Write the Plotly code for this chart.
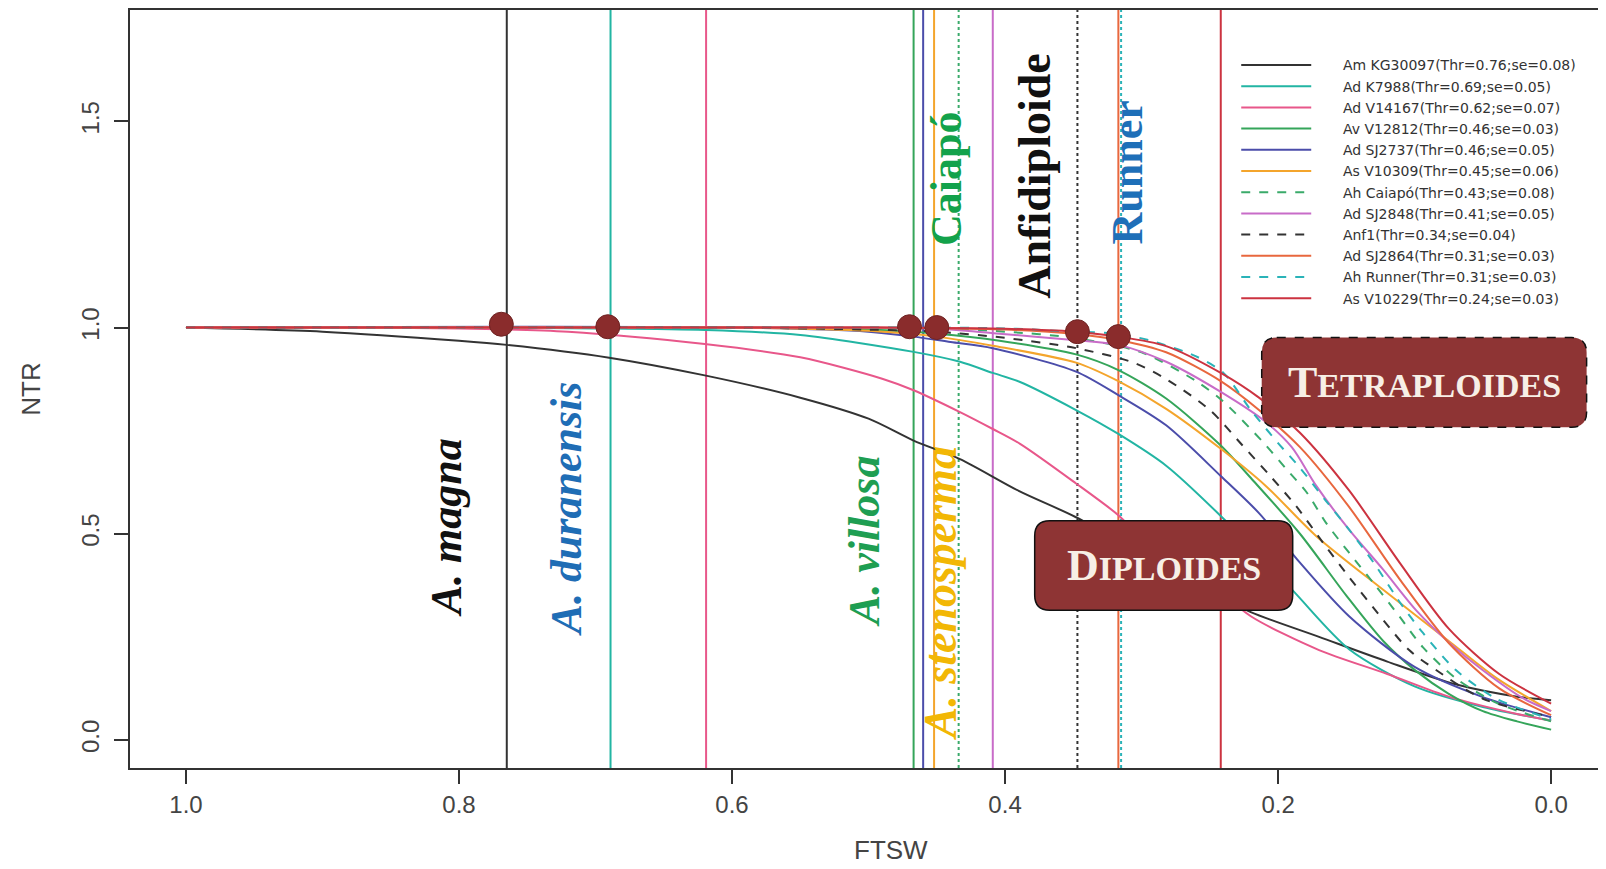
import plotly.graph_objects as go

# ---------------- data ----------------
names = ["Am KG30097(Thr=0.76;se=0.08)", "Ad K7988(Thr=0.69;se=0.05)", "Ad V14167(Thr=0.62;se=0.07)",
         "Av V12812(Thr=0.46;se=0.03)", "Ad SJ2737(Thr=0.46;se=0.05)", "As V10309(Thr=0.45;se=0.06)",
         "Ah Caiapó(Thr=0.43;se=0.08)", "Ad SJ2848(Thr=0.41;se=0.05)", "Anf1(Thr=0.34;se=0.04)",
         "Ad SJ2864(Thr=0.31;se=0.03)", "Ah Runner(Thr=0.31;se=0.03)", "As V10229(Thr=0.24;se=0.03)"]
colors = ["#333333", "#22B5A3", "#E8578A", "#35A55A", "#4B4DAA", "#F4A52C",
          "#3AAA6A", "#C86CC8", "#333333", "#E8673E", "#2AB3B8", "#CC3340"]
dashes = ["solid", "solid", "solid", "solid", "solid", "solid",
          "dash", "solid", "dash", "solid", "dash", "solid"]
thresholds = [0.765, 0.689, 0.619, 0.467, 0.460, 0.452, 0.434, 0.409, 0.347, 0.317, 0.315, 0.242]
vline_dash = ["solid", "solid", "solid", "solid", "solid", "solid",
              "dot", "solid", "dot", "solid", "dot", "solid"]

am_kg30097_x = [1.0, 0.9, 0.8, 0.765, 0.69, 0.62, 0.55, 0.5, 0.467, 0.433, 0.39, 0.348, 0.3, 0.25, 0.22, 0.17, 0.12, 0.07, 0.025, 0.0]
am_kg30097_y = [1.0, 0.99, 0.968, 0.958, 0.927, 0.884, 0.83, 0.779, 0.726, 0.681, 0.604, 0.54, 0.45, 0.36, 0.31, 0.25, 0.19, 0.135, 0.105, 0.096]

ad_k7988_x = [1.0, 0.8, 0.7, 0.62, 0.55, 0.467, 0.433, 0.409, 0.389, 0.348, 0.317, 0.282, 0.242, 0.19, 0.148, 0.1, 0.05, 0.0]
ad_k7988_y = [1.0, 1.0, 0.998, 0.994, 0.982, 0.941, 0.917, 0.89, 0.868, 0.80, 0.742, 0.665, 0.543, 0.365, 0.22, 0.13, 0.08, 0.047]

ad_v14167_x = [1.0, 0.9, 0.8, 0.72, 0.62, 0.55, 0.49, 0.467, 0.433, 0.409, 0.389, 0.348, 0.317, 0.3, 0.25, 0.22, 0.17, 0.12, 0.075, 0.025, 0.0]
ad_v14167_y = [1.0, 1.0, 0.998, 0.99, 0.96, 0.928, 0.876, 0.848, 0.795, 0.754, 0.718, 0.622, 0.545, 0.49, 0.38, 0.30, 0.218, 0.16, 0.105, 0.063, 0.047]

av_v12812_x = [1.0, 0.6, 0.5, 0.45, 0.404, 0.348, 0.317, 0.282, 0.242, 0.218, 0.184, 0.15, 0.123, 0.1, 0.075, 0.05, 0.025, 0.0]
av_v12812_y = [1.0, 1.0, 0.995, 0.985, 0.968, 0.935, 0.897, 0.828, 0.714, 0.628, 0.50, 0.35, 0.24, 0.17, 0.112, 0.07, 0.045, 0.025]

ad_sj2737_x = [1.0, 0.6, 0.5, 0.467, 0.44, 0.409, 0.348, 0.317, 0.282, 0.242, 0.214, 0.184, 0.148, 0.1, 0.05, 0.0]
ad_sj2737_y = [1.0, 1.0, 0.99, 0.978, 0.965, 0.95, 0.893, 0.836, 0.763, 0.64, 0.55, 0.43, 0.30, 0.177, 0.104, 0.055]

as_v10309_x = [1.0, 0.6, 0.5, 0.45, 0.409, 0.348, 0.317, 0.282, 0.242, 0.209, 0.172, 0.123, 0.075, 0.04, 0.0]
as_v10309_y = [1.0, 1.0, 0.992, 0.978, 0.956, 0.915, 0.87, 0.803, 0.706, 0.616, 0.494, 0.364, 0.24, 0.15, 0.07]

ah_caiapo_x = [1.0, 0.5, 0.45, 0.4, 0.35, 0.3, 0.26, 0.24, 0.211, 0.194, 0.179, 0.165, 0.148, 0.13, 0.111, 0.094, 0.07, 0.04, 0.0]
ah_caiapo_y = [1.0, 1.0, 0.998, 0.99, 0.975, 0.94, 0.87, 0.82, 0.722, 0.657, 0.6, 0.527, 0.454, 0.38, 0.299, 0.225, 0.15, 0.09, 0.045]

ad_sj2848_x = [1.0, 0.5, 0.45, 0.404, 0.35, 0.317, 0.282, 0.242, 0.209, 0.19, 0.172, 0.148, 0.123, 0.099, 0.074, 0.05, 0.02, 0.0]
ad_sj2848_y = [1.0, 1.0, 0.998, 0.985, 0.97, 0.958, 0.917, 0.844, 0.771, 0.71, 0.616, 0.51, 0.413, 0.315, 0.234, 0.169, 0.1, 0.07]

anf1_x = [1.0, 0.6, 0.5, 0.45, 0.4, 0.348, 0.306, 0.282, 0.25, 0.226, 0.206, 0.187, 0.167, 0.148, 0.123, 0.104, 0.084, 0.05, 0.0]
anf1_y = [1.0, 1.0, 0.995, 0.99, 0.975, 0.95, 0.915, 0.875, 0.80, 0.714, 0.641, 0.568, 0.478, 0.395, 0.291, 0.218, 0.169, 0.1, 0.056]

ad_sj2864_x = [1.0, 0.5, 0.4, 0.35, 0.317, 0.282, 0.242, 0.214, 0.184, 0.148, 0.111, 0.075, 0.038, 0.0]
ad_sj2864_y = [1.0, 1.0, 0.995, 0.985, 0.97, 0.94, 0.87, 0.80, 0.71, 0.565, 0.39, 0.235, 0.125, 0.06]

ah_runner_x = [1.0, 0.5, 0.4, 0.35, 0.317, 0.29, 0.26, 0.24, 0.22, 0.2, 0.184, 0.165, 0.148, 0.13, 0.11, 0.094, 0.07, 0.04, 0.0]
ah_runner_y = [1.0, 1.0, 0.998, 0.99, 0.985, 0.965, 0.93, 0.89, 0.80, 0.72, 0.66, 0.58, 0.51, 0.43, 0.33, 0.26, 0.17, 0.1, 0.05]

as_v10229_x = [1.0, 0.5, 0.4, 0.35, 0.317, 0.282, 0.242, 0.214, 0.184, 0.148, 0.111, 0.075, 0.038, 0.0]
as_v10229_y = [1.0, 1.0, 0.997, 0.99, 0.978, 0.955, 0.89, 0.83, 0.745, 0.605, 0.43, 0.27, 0.16, 0.088]

curves_x = [am_kg30097_x, ad_k7988_x, ad_v14167_x, av_v12812_x, ad_sj2737_x, as_v10309_x,
            ah_caiapo_x, ad_sj2848_x, anf1_x, ad_sj2864_x, ah_runner_x, as_v10229_x]
curves_y = [am_kg30097_y, ad_k7988_y, ad_v14167_y, av_v12812_y, ad_sj2737_y, as_v10309_y,
            ah_caiapo_y, ad_sj2848_y, anf1_y, ad_sj2864_y, ah_runner_y, as_v10229_y]

dot_x = [0.769, 0.691, 0.470, 0.450, 0.347, 0.317]
dot_y = [1.008, 1.002, 1.002, 1.000, 0.990, 0.978]

label_text = ["A. magna", "A. duranensis", "A. villosa", "A. stenosperma", "Caiapó", "Anfidiploide", "Runner"]
label_x = [0.809, 0.721, 0.503, 0.447, 0.443, 0.378, 0.310]
label_y = [0.515, 0.561, 0.483, 0.355, 1.361, 1.366, 1.376]
label_size = [44, 44, 44, 46, 44, 46, 44]
label_color = ["#111111", "#1F6DB5", "#1E9E52", "#F2B705", "#13A24B", "#111111", "#1E6FB8"]
label_italic = [True, True, True, True, False, False, False]

box_text = ["<span style='font-size:44px'>D</span>IPLOIDES", "<span style='font-size:44px'>T</span>ETRAPLOIDES"]
box_x0 = [0.3783, 0.2120]
box_x1 = [0.1893, -0.026]
box_y0 = [0.3146, 0.7585]
box_y1 = [0.5317, 0.9756]
box_dash = ["solid", "dash"]

x_ticks = [1.0, 0.8, 0.6, 0.4, 0.2, 0.0]
y_ticks = [0.0, 0.5, 1.0, 1.5]

# ---------------- figure ----------------
fig = go.Figure()

for t, c, d in zip(thresholds, colors, vline_dash):
    fig.add_vline(x=t, line=dict(color=c, width=2, dash=d), layer="below")

pad = "\u00a0" * 6
for nm, xs, ys, c, d in zip(names, curves_x, curves_y, colors, dashes):
    fig.add_trace(go.Scatter(x=xs, y=ys, mode="lines", name=pad + nm,
                             line=dict(color=c, width=2, dash=d, shape="spline", smoothing=0.8)))

fig.add_trace(go.Scatter(x=dot_x, y=dot_y, mode="markers", showlegend=False,
                         marker=dict(size=24, color="#8A2C2C", line=dict(color="#6E2222", width=1))))

def rounded(x0, x1, y0, y1, rx, ry):
    # path in data coordinates (x axis reversed: x0 > x1)
    xl, xr = x0, x1
    sx = -1 if xr < xl else 1
    return (f"M {xl + sx*rx},{y1} L {xr - sx*rx},{y1} Q {xr},{y1} {xr},{y1 - ry} "
            f"L {xr},{y0 + ry} Q {xr},{y0} {xr - sx*rx},{y0} L {xl + sx*rx},{y0} "
            f"Q {xl},{y0} {xl},{y0 + ry} L {xl},{y1 - ry} Q {xl},{y1} {xl + sx*rx},{y1} Z")

for txt, x0, x1, y0, y1, dd in zip(box_text, box_x0, box_x1, box_y0, box_y1, box_dash):
    fig.add_shape(type="path", path=rounded(x0, x1, y0, y1, 0.011, 0.037),
                  fillcolor="#8E3434", line=dict(color="#111111", width=1.5, dash=dd), layer="above")
    fig.add_annotation(x=(x0 + x1) / 2, y=(y0 + y1) / 2, text=txt, showarrow=False,
                       font=dict(family="Liberation Serif", size=34, color="#F7EFE6", weight="bold"))

for txt, lx, ly, ls, lc, it in zip(label_text, label_x, label_y, label_size, label_color, label_italic):
    fig.add_annotation(x=lx, y=ly, text=txt, showarrow=False, textangle=-90,
                       font=dict(family="Liberation Serif", size=ls, color=lc, weight="bold",
                                 style="italic" if it else "normal"))

# x-axis title placed as in the original (slightly right of centre)
fig.add_annotation(xref="paper", yref="paper", x=0.5166, y=-0.108, yanchor="middle",
                   text="FTSW", showarrow=False,
                   font=dict(family="Liberation Sans", size=26, color="#444444"))

axis_common = dict(showline=True, mirror=True, linecolor="#333333", linewidth=2,
                   ticks="outside", ticklen=14, tickwidth=2, tickcolor="#333333",
                   showgrid=False, zeroline=False,
                   tickfont=dict(family="Liberation Sans", size=24, color="#444444"),
                   title_font=dict(family="Liberation Sans", size=26, color="#444444"))

fig.update_layout(
    width=1606, height=869,
    margin=dict(l=122, r=11, t=0, b=109),
    paper_bgcolor="white", plot_bgcolor="white",
    xaxis=dict(range=[1.041, -0.038], tickvals=x_ticks, tickformat=".1f", **axis_common),
    yaxis=dict(range=[-0.068, 1.77], tickvals=y_ticks, tickformat=".1f", tickangle=-90,
               ticklabelstandoff=5,
               title=dict(text="NTR", standoff=29), **axis_common),
    legend=dict(x=0.751, y=0.948, xanchor="left", yanchor="top", bgcolor="rgba(0,0,0,0)",
                font=dict(family="DejaVu Sans", size=14, color="#333333"),
                itemwidth=70, tracegroupgap=0),
)

fig.write_html("out.html")
